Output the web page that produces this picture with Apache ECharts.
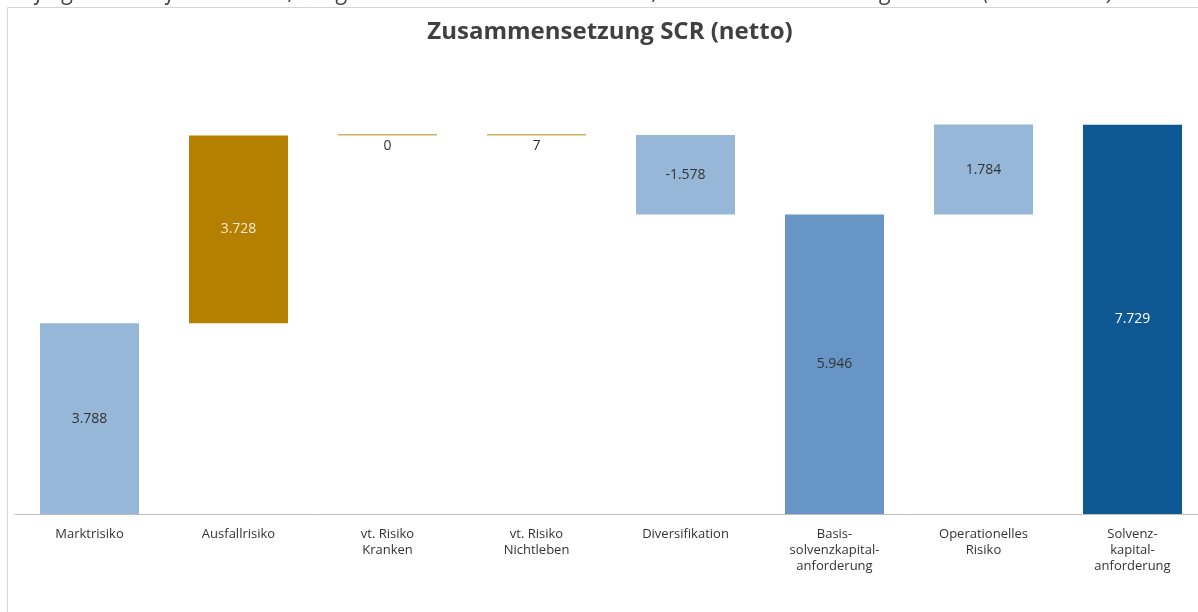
<!DOCTYPE html>
<html>
<head>
<meta charset="utf-8">
<script src="https://cdn.jsdelivr.net/npm/echarts@6/dist/echarts.min.js"></script>
<style>
html,body{margin:0;padding:0;background:#fff;overflow:hidden;}
#chart{width:1210px;height:612px;}
</style>
</head>
<body>
<div id="chart"></div>
<script>
var categories = ['Marktrisiko', 'Ausfallrisiko', 'vt. Risiko\nKranken', 'vt. Risiko\nNichtleben', 'Diversifikation', 'Basis-\nsolvenzkapital-\nanforderung', 'Operationelles\nRisiko', 'Solvenz-\nkapital-\nanforderung'];
var values = [3788, 3728, 0, 7, -1578, 5946, 1784, 7729];
var isTotal = [false, false, false, false, false, true, false, true];
var barColors = ['#97b7d8', '#b57f00', '#d2b262', '#d2b262', '#97b7d8', '#6796c6', '#97b7d8', '#0e5893'];
var labelColors = ['#333333', '#f3ead5', '#333333', '#333333', '#333333', '#333333', '#333333', '#ffffff'];

function fmt(v) {
  var s = Math.abs(v).toString();
  var out = '';
  while (s.length > 3) { out = '.' + s.slice(-3) + out; s = s.slice(0, -3); }
  return (v < 0 ? '-' : '') + s + out;
}

var bases = [], heights = [];
var running = 0;
for (var i = 0; i < values.length; i++) {
  var v = values[i];
  if (isTotal[i]) {
    bases.push(0); heights.push(v); running = v;
  } else if (v >= 0) {
    bases.push(running); heights.push(v); running += v;
  } else {
    running += v; bases.push(running); heights.push(-v);
  }
}

var barData = heights.map(function (h, i) {
  var thin = values[i] === 0 || Math.abs(values[i]) < 50;
  return {
    value: h,
    itemStyle: { color: barColors[i] },
    label: {
      show: true,
      position: thin ? 'bottom' : 'inside',
      distance: 4,
      color: labelColors[i],
      formatter: function () { return fmt(values[i]); }
    }
  };
});

var chart = echarts.init(document.getElementById('chart'));
chart.setOption({
  animation: false,
  backgroundColor: '#ffffff',
  graphic: [
    { type: 'rect', silent: true, shape: { x: 7.5, y: 7.5, width: 1400, height: 800 }, style: { fill: 'none', stroke: '#d4d4d4', lineWidth: 1 } },
    { type: 'text', silent: true, x: -2, y: -8, style: { text: 'Die folgende Grafik illustriert, ausgehend von den Risikomodulen, die Zusammensetzung des SCR (in Tsd. Euro).', font: 'italic 23px "Open Sans", sans-serif', fill: '#444444', verticalAlign: 'middle' } },
    { type: 'text', silent: true, x: 610, y: 32, style: { text: 'Zusammensetzung SCR (netto)', font: 'bold 24px "Open Sans", sans-serif', fill: '#404040', align: 'center', verticalAlign: 'middle' } }
  ],
  grid: { left: 15, width: 1192, top: 111, bottom: 98, containLabel: false },
  xAxis: {
    type: 'category',
    data: categories,
    axisLine: { lineStyle: { color: '#bfbfbf', width: 1 } },
    axisTick: { show: false },
    axisLabel: { interval: 0, color: '#333333', fontSize: 13, lineHeight: 16, margin: 12, fontFamily: '"Open Sans", sans-serif' }
  },
  yAxis: { type: 'value', min: 0, max: 8000, show: false, splitLine: { show: false } },
  series: [
    {
      type: 'bar', stack: 'wf', barWidth: 99, silent: true,
      itemStyle: { color: 'transparent' },
      data: bases
    },
    {
      type: 'bar', stack: 'wf', barWidth: 99, barMinHeight: 1.5,
      label: { fontSize: 14, fontFamily: '"Open Sans", sans-serif' },
      data: barData
    }
  ]
});
</script>
</body>
</html>
